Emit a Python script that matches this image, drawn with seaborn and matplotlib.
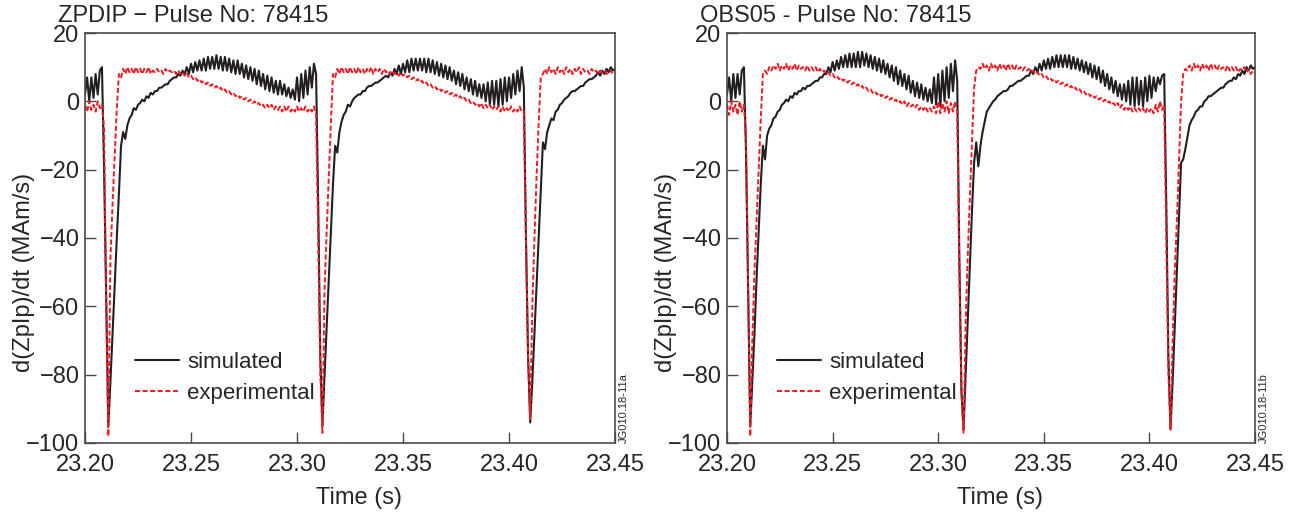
import numpy as np
import pandas as pd
import matplotlib
matplotlib.use("Agg")
import matplotlib.pyplot as plt
import seaborn as sns

# ---------------- data (sampled every 1 ms from 23.200 s to 23.450 s) ----------------
t_start = 23.200
t_step = 0.001

sim_left = [
    2, 7, 0, 7, 1, 8, 2, 9, 10, -20,
    -58, -95, -82, -68, -54, -40, -27, -13, -9, -11,
    -7, -5, -4, -2, -2.5, -1, -0.5, 0.5, 0, 1.5,
    1, 2.5, 2, 3, 3, 4, 4, 4.5, 5, 5,
    6, 6.5, 7, 7, 8, 7.5, 9, 8, 10, 8,
    11, 8.5, 11.5, 9, 12, 9, 12.5, 9, 13, 9.5,
    13, 9.5, 13.5, 9.5, 13, 9, 13, 9, 12.5, 8.5,
    12, 8, 12, 8, 11, 7, 10.5, 6.5, 10, 6,
    9.5, 5, 9, 4.5, 8, 3.5, 7.5, 3, 7, 2.5,
    6, 2, 6, 2, 5, 1.5, 4, 1, 3.5, 0.5,
    7, 0, 8, 1, 9, 2, 10, 4, 11, 8,
    -30, -75, -95, -80, -66, -52, -38, -24, -13, -15,
    -9, -6, -4, -3, -1, -1.5, 0, 1, 1.5, 2,
    2, 3, 3, 4, 4.5, 4.5, 5, 5.5, 5.5, 6,
    6.5, 7, 7.5, 7, 8.5, 7.5, 9.5, 8, 10.5, 8,
    11, 8.5, 12, 8.5, 12.5, 9, 12.5, 9, 12.5, 9,
    12.5, 8.5, 12.5, 8.5, 12, 8, 11.5, 7.5, 11, 7,
    10.5, 6.5, 10, 6, 9, 5, 8.5, 4.5, 8, 3.5,
    7, 3, 6.5, 2, 6, 1.5, 5, 1, 5, 0,
    5.5, -1, 6, -1, 6, -1.5, 6.5, -1, 7, 0,
    7, 1, 8, 2, 9, 3, 10, 4, -40, -75,
    -94, -82, -68, -54, -40, -26, -12, -14, -9, -7,
    -5, -5.5, -3, -2.5, -1, -0.5, 0.5, 1, 1.5, 2.5,
    3, 3, 3.5, 4, 4.5, 4.5, 5.5, 6, 6.5, 6.5,
    7, 7.5, 8.5, 7.5, 9, 8, 9.5, 8.5, 10, 9,
    9.5,
]

exp_left = [
    -1, -3, 0, -2.5, -1, -3, 0, -2, -1, -8,
    -60, -98, -46, -30, -16, -2, 8, 7, 9.5, 8,
    10, 8.5, 9.5, 8, 10, 8.5, 9.5, 8, 9.5, 8.5,
    10, 8, 9, 8.5, 9.5, 8.5, 9, 8, 9.5, 8.5,
    9, 8.5, 9, 8, 9, 8, 8.5, 7.5, 8.5, 7,
    7.5, 6.5, 7, 6, 6.5, 5.5, 6, 5, 5.5, 4.5,
    5, 4, 4.5, 3.5, 4, 3, 3.5, 2.5, 3, 2,
    2.5, 1.5, 2, 1, 1.5, 0.5, 1, 0, 0.5, -0.5,
    0, -1, -0.5, -1.5, -1, -2, -1, -2, -1, -2.5,
    -1.5, -2.5, -1.5, -3, -1.5, -3, -1.5, -3, -2, -3,
    -1.5, -3, -2, -3, -1.5, -3, -2, -3, -1.5, -4,
    -40, -80, -97, -55, -38, -22, -6, 8, 7, 9.5,
    8, 10, 8.5, 9.5, 8, 10, 8.5, 9.5, 8, 10,
    8.5, 9.5, 8, 9.5, 8.5, 10, 8, 9.5, 8.5, 9.5,
    8, 9.5, 8.5, 9, 8, 9, 8, 8.5, 7.5, 8.5,
    7.5, 8, 7, 7.5, 6.5, 7, 6, 6.5, 5.5, 6,
    5, 5.5, 4.5, 5, 4, 4.5, 3.5, 4, 3, 3.5,
    2.5, 3, 2, 2.5, 1.5, 2, 1, 1.5, 0.5, 1,
    0, 0.5, -0.5, 0, -1, -0.5, -1.5, -0.5, -2, -1,
    -2, -1, -2.5, -1.5, -2.5, -1.5, -3, -1.5, -3, -2,
    -3, -1.5, -3, -2, -3, -1.5, -3, -3, -40, -75,
    -93, -60, -40, -22, -6, 7, 8, 9.5, 8, 10,
    8.5, 9.5, 8, 10, 8.5, 9.5, 8, 10, 8.5, 9.5,
    8, 9.5, 8.5, 10, 8, 9.5, 8.5, 9, 8, 9.5,
    8.5, 9, 8, 9, 8.5, 9, 8, 8.5, 9, 8,
    8.5,
]

sim_right = [
    2, 7, 0, 8, 1, 8, 2, 9, 10, -15,
    -55, -95, -82, -68, -52, -38, -24, -13, -17, -10,
    -8, -7, -5, -4.5, -3, -2.5, -1, -0.5, 0.5, 0,
    1.5, 1, 2.5, 2, 3, 3, 4, 3.5, 4.5, 4.5,
    5, 5.5, 6, 6, 7, 7, 8, 8, 10, 8.5,
    11.5, 9, 12, 9.5, 13, 10, 13.5, 10, 14, 10,
    14, 10, 14.5, 10, 14.5, 10.5, 14, 10, 13.5, 9.5,
    13, 9, 12.5, 8.5, 12, 8, 11, 7, 10.5, 6,
    10, 5, 9, 4.5, 8, 3.5, 7.5, 2.5, 6, 1.5,
    5.5, 1, 5, 0.5, 4, 0, 3.5, -0.5, 7, -1,
    8, -1.5, 9, 0, 10, 1, 11, 3, 12, 6,
    -45, -85, -96, -80, -64, -48, -32, -18, -12, -19,
    -13, -9, -6, -3, -2, -1, 0, 0.5, 1.5, 2,
    2.5, 3, 3, 3.5, 4.5, 4.5, 5, 5.5, 6, 6,
    6.5, 7, 7.5, 7.5, 9, 8, 10, 8.5, 11, 9,
    12, 9.5, 12.5, 9.5, 13, 10, 13.5, 10, 13.5, 10,
    13.5, 10, 13.5, 9.5, 13, 9.5, 12.5, 9, 12, 8.5,
    11.5, 8, 11, 7, 10.5, 6.5, 10, 5.5, 9, 4.5,
    8, 3.5, 7, 2.5, 6, 1.5, 5, 0.5, 5, 0,
    6, -1, 7, -1.5, 7, -1, 6, -1.5, 7, 0,
    7.5, 1, 7, 3, 7, 5, 7.5, 8, -30, -75,
    -96, -82, -66, -50, -34, -18, -17, -14, -10.5, -7,
    -5.5, -4.5, -3, -2.5, -1.5, -1.5, 0, 0.5, 1.5, 1.5,
    2, 2.5, 3, 3.5, 4, 4, 5, 5.5, 6, 6,
    7, 6.5, 8, 7.5, 9, 8, 10, 9, 10.5, 9.5,
    10,
]

exp_right = [
    -1, -4, 0, -3, -1, -4, 0, -3, -1, -10,
    -55, -98, -70, -50, -35, -20, -5, 8, 9, 8,
    10, 9, 10.5, 9.5, 11, 9, 10.5, 9.5, 11, 9,
    10.5, 9.5, 11, 9, 10.5, 9.5, 10, 9, 10.5, 9,
    10, 9, 10, 8.5, 9.5, 8.5, 9, 8, 8.5, 7.5,
    8, 7, 7.5, 6.5, 7, 6, 6.5, 5.5, 6, 5,
    5.5, 4.5, 5, 4, 4.5, 3.5, 4, 3, 3.5, 2.5,
    3, 2, 2.5, 1.5, 2, 1, 1.5, 0.5, 1, 0,
    0.5, -0.5, 0, -1, 0, -1.5, -0.5, -1.5, -1, -2,
    -1, -2.5, -1.5, -2.5, -1.5, -3, -2, -3, -1.5, -3.5,
    0, -3.5, -0.5, -3, 0, -3.5, -0.5, -3, 0, -3,
    -50, -85, -97, -65, -45, -28, -12, 4, 9, 10,
    9.5, 11, 9.5, 10.5, 9, 11, 9.5, 10.5, 9, 11,
    9.5, 10.5, 9, 11, 9.5, 10.5, 9, 10.5, 9.5, 10,
    9, 10, 9, 9.5, 8.5, 9, 8, 8.5, 7.5, 8,
    7, 7.5, 6.5, 7, 6, 6.5, 5.5, 6, 5, 5.5,
    4.5, 5, 4, 4.5, 3.5, 4, 3, 3.5, 2.5, 3,
    2, 2.5, 1.5, 2, 1, 1.5, 0.5, 1, 0, 0.5,
    -0.5, 0, -1, -0.5, -1.5, -0.5, -2, -1, -2.5, -1.5,
    -2.5, -1.5, -3, -2, -3, -2, -3, -2, -3.5, -2,
    -3, -2, -3.5, -1, -3, 0, -2.5, -1, -40, -80,
    -96, -70, -50, -35, -18, 0, 8, 9.5, 9, 10.5,
    9, 11, 9.5, 10.5, 9, 11, 9.5, 10.5, 9, 11,
    9.5, 10.5, 9, 10.5, 9.5, 10, 9, 10.5, 9, 10,
    9, 10, 8.5, 9.5, 9, 10, 8.5, 9.5, 8, 9,
    8.5,
]

titles = ["ZPDIP \u2212 Pulse No: 78415", "OBS05 - Pulse No: 78415"]
tags = ["JG010.18-11a", "JG010.18-11b"]
series_labels = ["simulated", "experimental"]
x_ticks = [23.20, 23.25, 23.30, 23.35, 23.40, 23.45]
x_tick_labels = ["23.20", "23.25", "23.30", "23.35", "23.40", "23.45"]
y_ticks = [-100, -80, -60, -40, -20, 0, 20]

# ---------------- style ----------------
sns.set_style("ticks")
plt.rcParams["font.family"] = ["Liberation Sans", "DejaVu Sans"]
FS = 17
BLACK = "#231f20"
RED = "#ed1c24"
SPINE = "#4a4a4a"

fig = plt.figure(figsize=(12.97, 5.14), dpi=100)
W, H = 1297, 514
axL = fig.add_axes([85 / W, 71 / H, 530 / W, 410 / H])
axR = fig.add_axes([727 / W, 71 / H, 528 / W, 410 / H])

panels = [(axL, sim_left, exp_left), (axR, sim_right, exp_right)]

for k, (ax, sim, exp) in enumerate(panels):
    t = np.round(t_start + t_step * np.arange(len(sim)), 4)
    df = pd.DataFrame({"t": t, "sim": sim, "exp": exp})
    sns.lineplot(data=df, x="t", y="sim", ax=ax, color=BLACK, lw=1.5,
                 estimator=None, sort=False, label=series_labels[0])
    sns.lineplot(data=df, x="t", y="exp", ax=ax, color=RED, lw=1.4,
                 linestyle=(0, (2.6, 1.3)),
                 estimator=None, sort=False, label=series_labels[1])

    ax.set_xlim(23.20, 23.45)
    ax.set_ylim(-100, 20)
    ax.set_xticks(x_ticks)
    ax.set_xticklabels(x_tick_labels)
    ax.set_yticks(y_ticks)
    ax.tick_params(direction="in", length=8, width=1.0, color=SPINE,
                   labelsize=FS, top=False, right=False)
    ax.tick_params(axis="x", pad=8)
    ax.tick_params(axis="y", pad=4)
    for s in ax.spines.values():
        s.set_visible(True)
        s.set_color(SPINE)
        s.set_linewidth(1.2)

    ax.set_xlabel("Time (s)", fontsize=FS)
    ax.xaxis.set_label_coords(0.517, -0.108)
    ax.set_ylabel("d(ZpIp)/dt (MAm/s)", fontsize=FS)
    ax.yaxis.set_label_coords(-0.095, 0.417)

    ax.text(-0.051, 1.026, titles[k], transform=ax.transAxes, fontsize=FS,
            ha="left", va="baseline")
    ax.text(1.007, 0.085, tags[k], transform=ax.transAxes, fontsize=8,
            rotation=90, ha="left", va="center")

    ax.legend(loc="upper left", bbox_to_anchor=(0.094, 0.223), frameon=False,
              fontsize=16, handlelength=2.0, handletextpad=0.35, borderpad=0,
              borderaxespad=0, labelspacing=0.45)

fig.savefig("out.png", dpi=100)
